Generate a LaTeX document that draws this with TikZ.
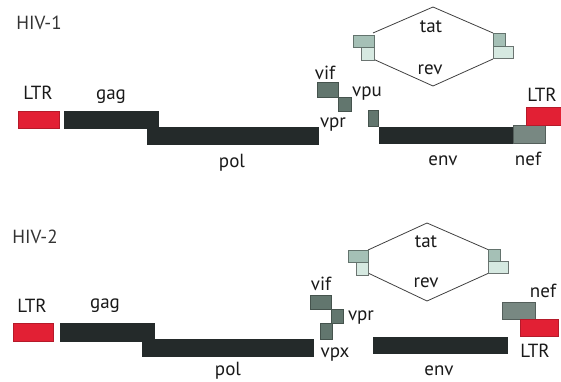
\documentclass[tikz,border=0pt]{standalone}
\usepackage{fontspec}
\setmainfont{PT Sans}
\definecolor{ltrred}{RGB}{226,32,52}
\definecolor{gene}{RGB}{36,42,42}
\definecolor{acc}{RGB}{98,118,110}
\definecolor{nefc}{RGB}{120,136,130}
\definecolor{tatc}{RGB}{165,192,182}
\definecolor{revc}{RGB}{214,233,225}
\begin{document}
\begin{tikzpicture}[x=1pt,y=-1pt,
  lbl/.style={font=\fontsize{19}{19}\selectfont, text=black!90, inner sep=0pt, anchor=base},
  ttl/.style={font=\fontsize{19}{19}\selectfont, text=black!80, inner sep=0pt, anchor=base},
  ltrbox/.style={fill=ltrred, draw=ltrred!80!black, line width=0.4pt},
  genebox/.style={fill=gene, draw=gene, line width=0.4pt},
  accbox/.style={fill=acc, draw=acc!70!black, line width=0.4pt},
  nefbox/.style={fill=nefc, draw=nefc!70!black, line width=0.4pt},
  tatbox/.style={fill=tatc, draw=tatc!60!black, line width=0.4pt},
  revbox/.style={fill=revc, draw=revc!50!black, line width=0.4pt},
  hex/.style={draw=black!75, line width=0.8pt}]
\useasboundingbox (0,0) rectangle (561,382);

% ---------------- HIV-1 ----------------
\node[ttl] (t1) at (39,30) {HIV-1};
\node[lbl] (ltrA1) at (38,100) {LTR};
\node[lbl] (gagA) at (111,100) {gag};
\node[lbl] (polA) at (232,167) {pol};
\node[lbl] (vifA) at (325,80) {vif};
\node[lbl] (vprA) at (333,128) {vpr};
\node[lbl] (vpuA) at (367,97) {vpu};
\node[lbl] (envA) at (443,165) {env};
\node[lbl] (nefA) at (528,165) {nef};
\node[lbl] (ltrA2) at (542,102) {LTR};
\node[lbl] (tatA) at (431,33) {tat};
\node[lbl] (revA) at (430,75) {rev};

\path[ltrbox] (18,111) rectangle (59,128);
\path[genebox] (147,127) rectangle (318,144);
\path[genebox] (64,111) rectangle (158,128);
\path[accbox] (317,82) rectangle (338,97);
\path[accbox] (338,97) rectangle (351,111);
\path[accbox] (368,110) rectangle (378,126);
\path[genebox] (379,127) rectangle (513,143);
\path[nefbox] (513,125) rectangle (545,143);
\path[ltrbox] (526,107) rectangle (561,125);

\coordinate (hA1) at (373,33);
\coordinate (hA2) at (433,7);
\coordinate (hA3) at (493,33);
\coordinate (hA4) at (493,59);
\coordinate (hA5) at (433,86);
\coordinate (hA6) at (373,59);
\draw[hex] (hA6) -- (hA5) -- (hA4);
\draw[hex] (hA1) -- (hA2) -- (hA3);
\path[revbox] (361,47) rectangle (374,60);
\path[tatbox] (353,35) rectangle (374,47);
\path[revbox] (493,46) rectangle (513,58);
\path[tatbox] (493,33) rectangle (505,46);

% ---------------- HIV-2 ----------------
\node[ttl] (t2) at (35,243) {HIV-2};
\node[lbl] (ltrB1) at (32,312) {LTR};
\node[lbl] (gagB) at (105,308) {gag};
\node[lbl] (polB) at (228,375) {pol};
\node[lbl] (vifB) at (321,290) {vif};
\node[lbl] (vprB) at (361,320) {vpr};
\node[lbl] (vpxB) at (335,357) {vpx};
\node[lbl] (envB) at (439,375) {env};
\node[lbl] (nefB) at (543,297) {nef};
\node[lbl] (ltrB2) at (535,357) {LTR};
\node[lbl] (tatB) at (426,247) {tat};
\node[lbl] (revB) at (426,287) {rev};

\path[ltrbox] (13,323) rectangle (53,341);
\path[genebox] (142,339) rectangle (313,356);
\path[genebox] (60,323) rectangle (154,341);
\path[accbox] (310,295) rectangle (331,309);
\path[accbox] (331,309) rectangle (343,323);
\path[accbox] (320,323) rectangle (332,339);
\path[genebox] (373,337) rectangle (507,353);
\path[nefbox] (502,302) rectangle (535,319);
\path[ltrbox] (520,319) rectangle (558,336);

\coordinate (hB1) at (368,250);
\coordinate (hB2) at (427,223);
\coordinate (hB3) at (489,250);
\coordinate (hB4) at (489,273);
\coordinate (hB5) at (427,301);
\coordinate (hB6) at (368,273);
\draw[hex] (hB6) -- (hB5) -- (hB4);
\draw[hex] (hB1) -- (hB2) -- (hB3);
\path[revbox] (356,262) rectangle (368,275);
\path[tatbox] (348,250) rectangle (368,262);
\path[revbox] (488,261) rectangle (508,273);
\path[tatbox] (488,249) rectangle (500,261);
\end{tikzpicture}
\end{document}
